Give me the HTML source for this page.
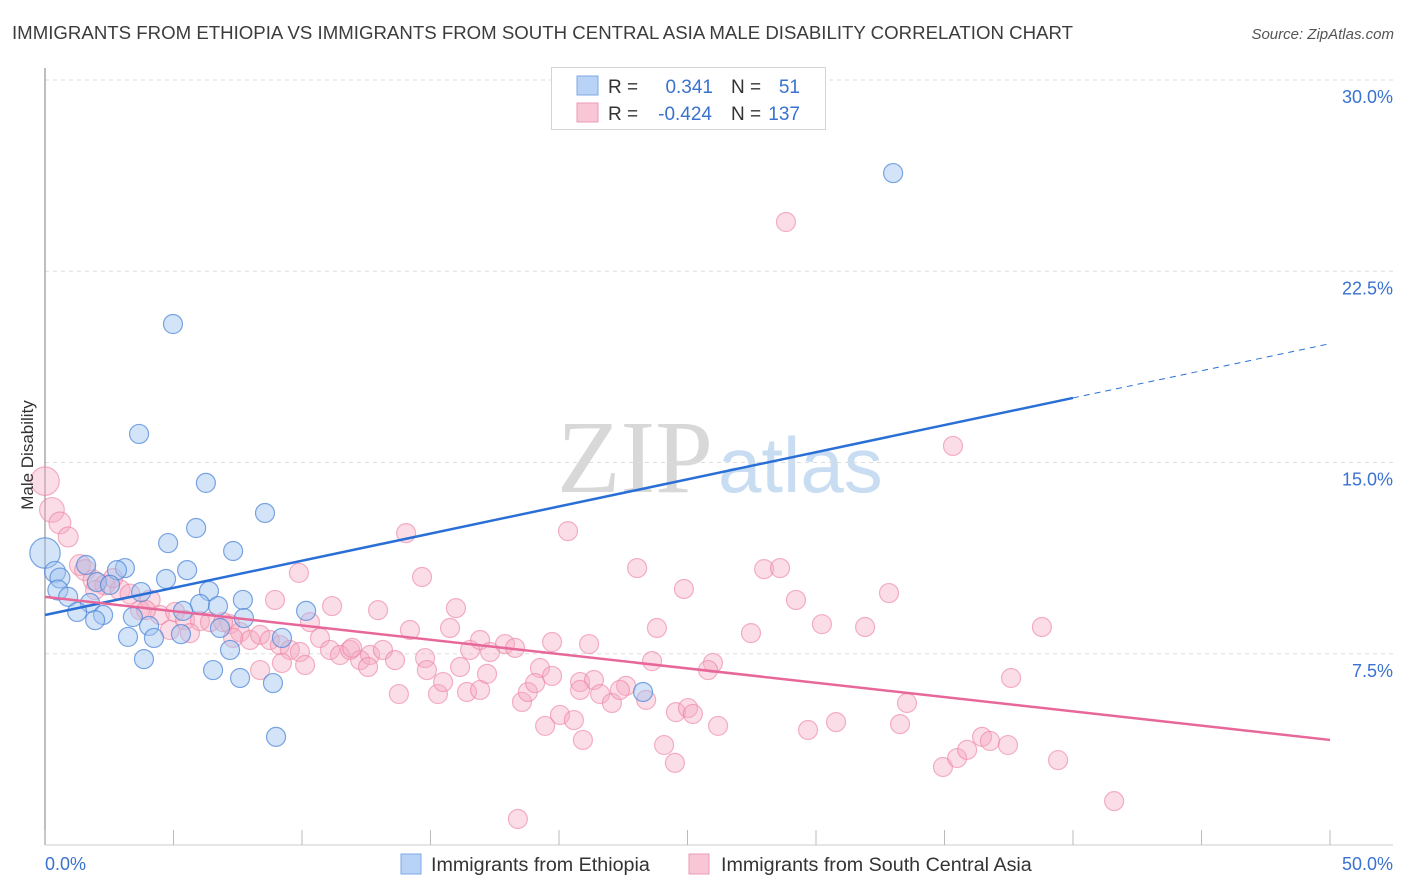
<!DOCTYPE html>
<html><head><meta charset="utf-8"><style>
body{margin:0;background:#fff;font-family:"Liberation Sans",sans-serif;}
svg{display:block}
</style></head><body>
<svg id="chart" width="1406" height="892" xmlns="http://www.w3.org/2000/svg">
<text x="12" y="39" font-size="18.6" fill="#3c3c3c" textLength="1061" lengthAdjust="spacingAndGlyphs">IMMIGRANTS FROM ETHIOPIA VS IMMIGRANTS FROM SOUTH CENTRAL ASIA MALE DISABILITY CORRELATION CHART</text>
<text x="1394" y="39" font-size="15" fill="#555" font-style="italic" text-anchor="end">Source: ZipAtlas.com</text>
<text x="713" y="492" font-size="104" fill="#d8d8d8" text-anchor="end" font-family="Liberation Serif,serif">ZIP</text>
<text x="718" y="492" font-size="78" fill="#c8dcf2">atlas</text>
<g id="grid"></g>
<g id="axes"></g>
<g id="pts"></g>
<g id="trend"></g>
<text transform="translate(33,455) rotate(-90)" font-size="17" fill="#333" text-anchor="middle">Male Disability</text>
<g>
<rect x="551.5" y="67.5" width="274" height="62" fill="#fff" stroke="#d4d4d4"/>
<rect x="577" y="76" width="21" height="19" fill="#b8d3f5" stroke="#7eaae6"/>
<rect x="577" y="103" width="21" height="19" fill="#f9c6d5" stroke="#ee9ab4"/>
<text x="608" y="93" font-size="19" fill="#333">R =</text>
<text x="713" y="93" font-size="19" fill="#3a72d0" text-anchor="end">0.341</text>
<text x="731" y="93" font-size="19" fill="#333">N =</text>
<text x="800" y="93" font-size="19" fill="#3a72d0" text-anchor="end">51</text>
<text x="608" y="120" font-size="19" fill="#333">R =</text>
<text x="712" y="120" font-size="19" fill="#3a72d0" text-anchor="end">-0.424</text>
<text x="731" y="120" font-size="19" fill="#333">N =</text>
<text x="800" y="120" font-size="19" fill="#3a72d0" text-anchor="end">137</text>
</g>
<g>
<rect x="401" y="854" width="20" height="20" fill="#b8d3f5" stroke="#7eaae6"/>
<text x="431" y="871" font-size="19.7" fill="#333">Immigrants from Ethiopia</text>
<rect x="689" y="854" width="20" height="20" fill="#f9c6d5" stroke="#ee9ab4"/>
<text x="721" y="871" font-size="19.7" fill="#333">Immigrants from South Central Asia</text>
</g>
</svg>
<script>
const yTicks=[30,22.5,15,7.5];
const yTickLabels=["30.0%","22.5%","15.0%","7.5%"];
const xEndLabels=["0.0%","50.0%"];
const blueX=[33.0,4.98,3.66,6.26,8.56,5.88,4.79,7.32,0,1.6,3.11,2.8,5.53,0.39,0.58,2.02,2.53,0.5,3.74,4.71,6.38,0.9,7.7,1.75,6.03,6.73,1.25,2.26,5.37,10.16,3.42,7.74,1.95,4.05,6.81,5.29,3.23,4.24,9.22,7.2,3.85,6.54,7.59,8.87,23.27,8.99];
const blueY=[26.35,20.43,16.12,14.2,13.02,12.43,11.84,11.53,11.45,10.98,10.86,10.78,10.78,10.71,10.47,10.31,10.2,10.0,9.92,10.43,9.96,9.73,9.61,9.49,9.45,9.37,9.14,9.02,9.18,9.18,8.94,8.9,8.82,8.59,8.51,8.27,8.16,8.12,8.12,7.65,7.29,6.86,6.55,6.35,6.0,4.24];
const blueSize=[1,1,1,1,1,1,1,1,1.6,1,1,1,1,1.1,1.05,1,1,1.05,1,1,1,1,1,1,1,1,1,1,1,1,1,1,1,1,1,1,1,1,1,1,1,1,1,1,1,1];
const pinkX=[28.83,35.33,0,0.27,0.58,0.9,14.05,20.35,9.88,14.67,23.04,27.98,28.6,24.86,32.84,29.22,8.95,15.99,12.96,11.17,1.36,1.56,1.87,2.33,2.92,3.31,4.09,3.7,4.47,5.06,5.45,6.03,6.42,7.2,7.59,7.98,8.37,8.75,9.14,9.53,9.92,10.31,10.7,11.09,11.48,11.87,12.26,12.65,13.15,13.62,14.2,14.79,15.76,16.54,16.93,17.32,17.9,18.29,19.73,21.17,23.81,27.47,30.23,31.91,38.79,19.26,19.73,20.82,21.36,21.6,22.06,22.61,23.39,23.62,24.55,25.02,25.21,25.99,25.8,26.19,29.69,30.78,33.27,33.54,37.59,13.77,15.29,15.49,16.42,16.93,18.56,18.79,19.07,20.04,19.46,20.58,20.93,24.09,24.51,34.94,35.49,35.88,36.46,36.77,37.47,39.42,41.6,18.4,11.95,8.37,9.22,10.12,7.32,6.93,3.93,2.65,1.95,4.86,5.64,12.57,16.15,17.2,14.86,20.82,22.37];
const pinkY=[24.43,15.65,14.27,13.14,12.63,12.08,12.23,12.31,10.67,10.51,10.86,10.82,10.86,10.04,9.88,9.61,9.61,9.29,9.21,9.37,10.98,10.78,10.39,10.2,10.0,9.84,9.61,9.21,9.02,9.14,8.82,8.78,8.74,8.66,8.35,8.04,8.24,8.04,7.84,7.65,7.57,8.74,8.12,7.65,7.45,7.65,7.25,7.45,7.65,7.25,8.43,7.33,8.51,7.65,8.04,7.57,7.88,7.73,7.96,7.88,8.51,8.31,8.66,8.55,8.55,6.94,6.63,6.39,6.47,5.92,5.57,6.24,5.69,7.21,5.21,5.37,5.14,7.14,6.86,4.67,4.51,4.82,4.74,5.57,6.55,5.92,5.92,6.39,6.0,6.08,5.61,6.0,6.35,5.1,4.67,4.9,4.12,3.92,3.22,3.06,3.41,3.73,4.24,4.08,3.92,3.33,1.72,1.02,7.73,6.86,7.14,7.06,8.12,8.74,9.21,10.47,10.0,8.43,8.31,6.98,6.98,6.71,6.86,6.08,6.08];
const pinkSize=[1,1,1.5,1.3,1.15,1.05,1,1,1,1,1,1,1,1,1,1,1,1,1,1,1.1,1.1,1.05,1.05,1.05,1.05,1.05,1,1,1,1,1,1,1,1,1,1,1,1,1,1,1,1,1,1,1,1,1,1,1,1,1,1,1,1,1,1,1,1,1,1,1,1,1,1,1,1,1,1,1,1,1,1,1,1,1,1,1,1,1,1,1,1,1,1,1,1,1,1,1,1,1,1,1,1,1,1,1,1,1,1,1,1,1,1,1,1,1,1,1,1,1,1,1,1,1,1,1,1,1,1,1,1,1,1,1,1,1];
const blueTrend=[9.02,0.2128];
const pinkTrend=[9.73,-0.1122];
const X=v=>45+v*25.7, Y=v=>80+(30-v)*25.5;
const NS="http://www.w3.org/2000/svg";
function mk(tag,attrs,parent){const e=document.createElementNS(NS,tag);for(const k in attrs)e.setAttribute(k,attrs[k]);document.getElementById(parent).appendChild(e);return e;}
yTicks.forEach((t,i)=>{
 const l=mk('line',{x1:45,x2:1393,y1:Y(t),y2:Y(t),stroke:'#ddd','stroke-dasharray':'4,4'},'grid');
 
 
 const tx=mk('text',{x:1393,y:Y(t)+23,'font-size':18,fill:'#3a72d0','text-anchor':'end'},'grid');
 tx.textContent=yTickLabels[i];
 
 
});
const ax=mk('line',{x1:45,x2:45,y1:68,y2:845,stroke:'#aaa','stroke-width':1.5},'axes');


const bx=mk('line',{x1:45,x2:1393,y1:845,y2:845,stroke:'#ccc'},'axes');


for(let i=0;i<=10;i++){
 const t=mk('line',{x1:X(i*5),x2:X(i*5),y1:830,y2:845,stroke:'#bbb'},'axes');
 
 
}
[[0,'start'],[50,'end']].forEach((p,i)=>{
 const tx=mk('text',{x:i?1393:45,y:870,'font-size':18,fill:'#3a72d0','text-anchor':p[1]},'axes');
 tx.textContent=xEndLabels[i];
 
 
});
function pts(xs,ys,ss,fill,stroke,name){
 xs.forEach((x,i)=>{
  const c=mk('circle',{cx:X(x),cy:Y(ys[i]),r:9.5*ss[i],fill:fill,stroke:stroke,'stroke-width':1.2},'pts');
  
  
 });
}
pts(pinkX,pinkY,pinkSize,'rgba(246,170,194,0.4)','rgba(236,128,160,0.6)','point-south-central-asia');
pts(blueX,blueY,blueSize,'rgba(160,196,240,0.45)','rgba(70,130,215,0.7)','point-ethiopia');
const b1=mk('line',{x1:X(0),y1:Y(blueTrend[0]),x2:X(40),y2:Y(blueTrend[0]+40*blueTrend[1]),stroke:'#2a6fd6','stroke-width':2.5},'trend');


const b2=mk('line',{x1:X(40),y1:Y(blueTrend[0]+40*blueTrend[1]),x2:X(50),y2:Y(blueTrend[0]+50*blueTrend[1]),stroke:'#2a6fd6','stroke-width':1,'stroke-dasharray':'6,5'},'trend');


const p1=mk('line',{x1:X(0),y1:Y(pinkTrend[0]),x2:X(50),y2:Y(pinkTrend[0]+50*pinkTrend[1]),stroke:'#e8679a','stroke-width':2.5},'trend');


</script>
</body></html>
